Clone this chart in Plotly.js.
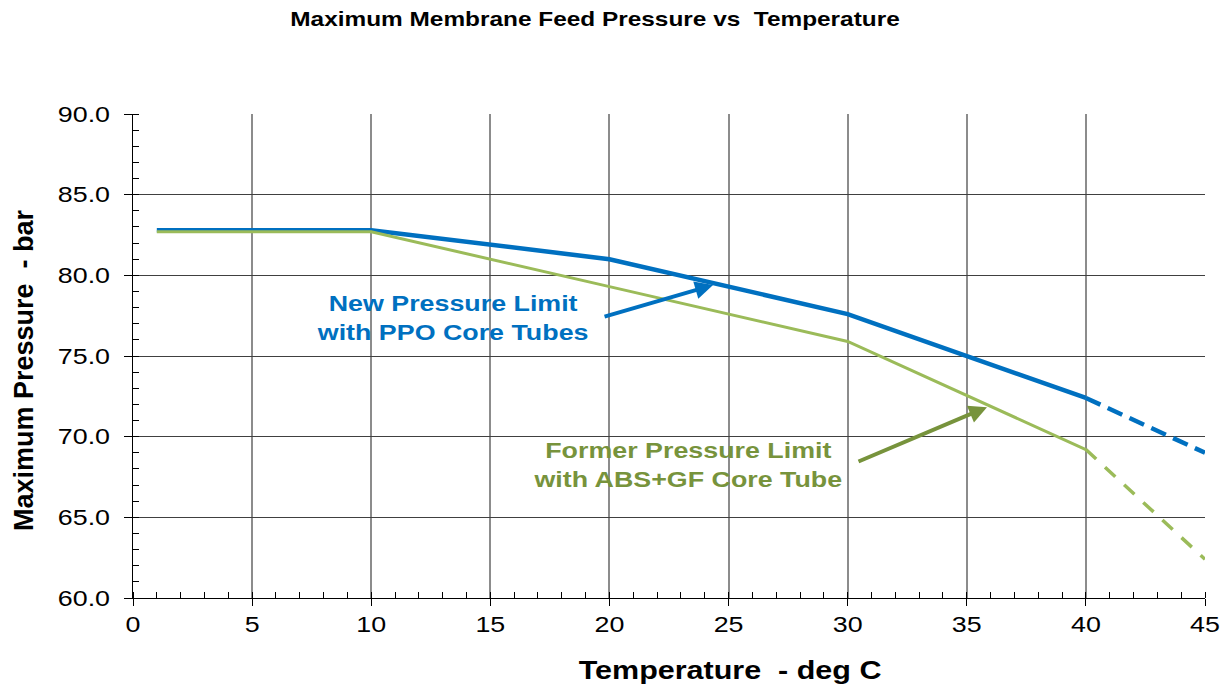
<!DOCTYPE html>
<html><head><meta charset="utf-8">
<script src="https://cdn.plot.ly/plotly-3.0.1.min.js"></script>
<style>body{margin:0;background:#fff}#c{width:1229px;height:685px}</style>
</head><body><div id="c"></div>
<script>
var tempNew = [1, 10, 20, 30, 40];
var pressNew = [82.8, 82.8, 81.0, 77.6, 72.4];
var tempNewExt = [40, 45];
var pressNewExt = [72.4, 69.0];
var tempOld = [1, 10, 20, 30, 40];
var pressOld = [82.7, 82.7, 79.3, 75.9, 69.2];
var tempOldExt = [40, 45];
var pressOldExt = [69.2, 62.4];

var blue = '#0070C0', green = '#9BBB59', darkGreen = '#77933C';
var traces = [
  {x: tempNew, y: pressNew, mode: 'lines', line: {color: blue, width: 4.5}},
  {x: tempNewExt, y: pressNewExt, mode: 'lines', line: {color: blue, width: 4.5, dash: '16px,8px'}},
  {x: tempOld, y: pressOld, mode: 'lines', line: {color: green, width: 3}},
  {x: tempOldExt, y: pressOldExt, mode: 'lines', line: {color: green, width: 3.5, dash: '14px,12px'}}
];
var F = 'Liberation Sans, Arial, sans-serif';
var L = 133, R = 24, T = 114, B = 87, W = 1229, H = 685;
function px(x) { return (x - L) / (W - L - R); }
function py(y) { return 1 - (y - T) / (H - T - B); }
var layout = {
  width: W, height: H, showlegend: false,
  paper_bgcolor: '#fff', plot_bgcolor: '#fff',
  margin: {l: L, r: R, t: T, b: B},
  title: {text: '<b>Maximum Membrane Feed Pressure vs  Temperature</b>', x: 595 / W, xanchor: 'center', y: 1 - 19 / H, yanchor: 'middle', font: {family: F, size: 20, color: '#000'}},
  xaxis: {range: [0, 45], dtick: 5, tick0: 0, showgrid: true, gridcolor: '#8c8c8c', gridwidth: 2,
    showline: true, linecolor: '#000', linewidth: 1, ticks: 'outside', ticklen: 7, tickcolor: '#000',
    minor: {dtick: 1, ticks: 'inside', ticklen: 6, tickcolor: '#000', showgrid: false},
    tickfont: {family: F, size: 22, color: '#000'}, zeroline: false},
  yaxis: {range: [60, 90], dtick: 5, tick0: 60, tickformat: '.1f', showgrid: true, gridcolor: '#404040', gridwidth: 1,
    showline: true, linecolor: '#000', linewidth: 1, ticks: 'outside', ticklen: 8, tickcolor: '#000',
    minor: {dtick: 1, ticks: 'inside', ticklen: 6, tickcolor: '#000', showgrid: false},
    tickfont: {family: F, size: 22, color: '#000'}, zeroline: false},
  annotations: [
    {x: 24.35, y: 79.4, xref: 'x', yref: 'y', ax: -110, ay: 32, showarrow: true, arrowhead: 2, arrowsize: 0.9, arrowwidth: 4, arrowcolor: blue, text: ''},
    {x: 35.85, y: 71.83, xref: 'x', yref: 'y', ax: -130, ay: 55, showarrow: true, arrowhead: 2, arrowsize: 0.9, arrowwidth: 4, arrowcolor: darkGreen, text: ''},
    {x: px(452), y: py(318), xref: 'paper', yref: 'paper', xanchor: 'center', yanchor: 'middle', text: '<b>New Pressure Limit<br>with PPO Core Tubes</b>', showarrow: false, font: {family: F, size: 22, color: blue}},
    {x: px(687), y: py(465), xref: 'paper', yref: 'paper', xanchor: 'center', yanchor: 'middle', text: '<b>Former Pressure Limit<br>with ABS+GF Core Tube</b>', showarrow: false, font: {family: F, size: 22, color: darkGreen}},
    {x: px(730), y: py(670), xref: 'paper', yref: 'paper', xanchor: 'center', yanchor: 'middle', text: '<b>Temperature  - deg C</b>', showarrow: false, font: {family: F, size: 25, color: '#000'}},
    {x: px(24), y: py(370), xref: 'paper', yref: 'paper', xanchor: 'center', yanchor: 'middle', textangle: -90, text: '<b>Maximum Pressure  - bar</b>', showarrow: false, font: {family: F, size: 27, color: '#000'}}
  ]
};
Plotly.newPlot('c', traces, layout, {displayModeBar: false}).then(function () {
  var S = 1.22;
  var els = document.querySelectorAll('#c .xtick text, #c .ytick text, #c .gtitle, #c .annotation-text');
  els.forEach(function (el) {
    if (el.textContent.indexOf('Maximum Pressure') === 0) return;
    var bb = el.getBoundingClientRect();
    if (!bb.width) return;
    var cx = bb.left + bb.width / 2;
    var parent = el.parentNode;
    var ctm = parent.getScreenCTM();
    var lx = (cx - ctm.e) / ctm.a;
    var dx = 0;
    if (el.closest('.ytick')) {
      var newRight = cx + S * bb.width / 2;
      dx = (110 - newRight) / ctm.a;
    }
    var g = document.createElementNS('http://www.w3.org/2000/svg', 'g');
    g.setAttribute('transform', 'translate(' + (lx + dx) + ',0) scale(' + S + ',1) translate(' + (-lx) + ',0)');
    parent.insertBefore(g, el);
    g.appendChild(el);
  });
});
</script></body></html>
